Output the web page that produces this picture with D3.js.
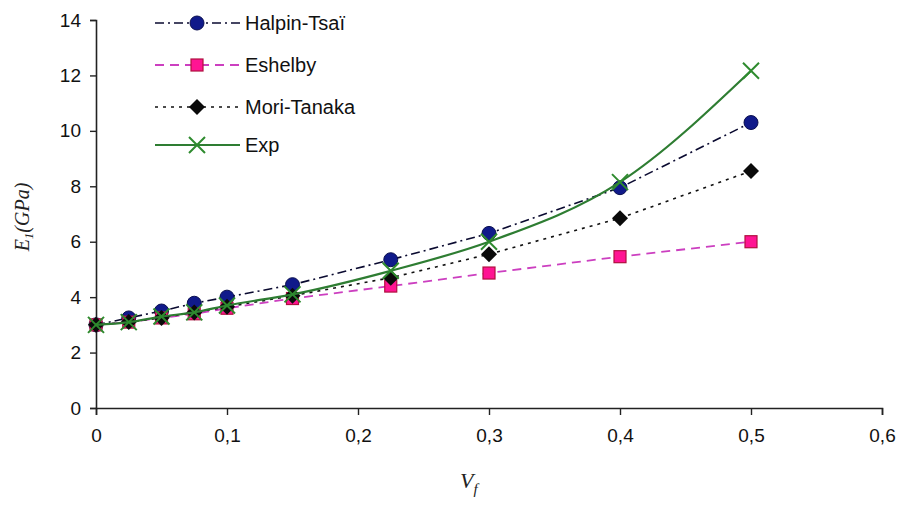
<!DOCTYPE html>
<html>
<head>
<meta charset="utf-8">
<script src="https://cdn.jsdelivr.net/npm/d3@7"></script>
<style>
  body { margin: 0; background: #fff; }
  .tick text { font-family: "Liberation Sans", Arial, sans-serif; font-size: 19px; fill: #111; }
</style>
</head>
<body>
<div id="chart"></div>
<script>
// fibre volume fraction
var vf = [0, 0.025, 0.05, 0.075, 0.1, 0.15, 0.225, 0.3, 0.4, 0.5];
var halpin = [3.0, 3.25, 3.5, 3.78, 4.0, 4.45, 5.35, 6.3, 7.95, 10.3];
var eshelby = [3.0, 3.1, 3.25, 3.4, 3.6, 3.95, 4.4, 4.87, 5.46, 6.0];
var moriTanaka = [3.0, 3.1, 3.25, 3.45, 3.65, 4.05, 4.7, 5.55, 6.85, 8.55];
var expVals = [3.0, 3.1, 3.3, 3.45, 3.7, 4.1, 4.95, 6.0, 8.15, 12.17];
var xTicks = [0, 0.1, 0.2, 0.3, 0.4, 0.5, 0.6];
var yTicks = [0, 2, 4, 6, 8, 10, 12, 14];

var margin = {top: 20, right: 18, bottom: 97, left: 96},
    width = 900 - margin.left - margin.right,
    height = 505 - margin.top - margin.bottom;

var svg = d3.select("#chart").append("svg")
  .attr("width", 900).attr("height", 505);

var g = svg.append("g").attr("transform", "translate(" + margin.left + "," + margin.top + ")");

var x = d3.scaleLinear().domain([0, 0.6]).range([0, width]);
var y = d3.scaleLinear().domain([0, 14]).range([height, 0]);

// axes
var xAxis = d3.axisBottom(x).tickValues(xTicks).tickSize(7).tickPadding(14)
  .tickFormat(function(d){ return d3.format(".1~f")(d).replace(".", ","); });
var yAxis = d3.axisLeft(y).tickValues(yTicks).tickSize(6).tickPadding(9);

var gx = g.append("g").attr("transform", "translate(0," + height + ")").call(xAxis);
var gy = g.append("g").call(yAxis);
[gx, gy].forEach(function(a){
  a.select(".domain").attr("stroke", "#222").attr("stroke-width", 1.6);
  a.selectAll(".tick line").attr("stroke", "#222").attr("stroke-width", 1.4);
});

// axis titles
var t = svg.append("text")
  .attr("transform", "translate(29,217) rotate(-90)")
  .attr("text-anchor", "middle")
  .attr("font-family", "'Liberation Serif', 'Times New Roman', serif")
  .attr("font-style", "italic").attr("font-size", 20).attr("fill", "#222");
t.append("tspan").text("E");
t.append("tspan").attr("font-size", 13).attr("dy", 4).text("1");
t.append("tspan").attr("dy", -4).text("(GPa)");

var vt = svg.append("text")
  .attr("x", 460).attr("y", 488)
  .attr("font-family", "'Liberation Serif', 'Times New Roman', serif")
  .attr("font-style", "italic").attr("font-size", 22).attr("fill", "#222");
vt.append("tspan").text("V");
vt.append("tspan").attr("font-size", 15).attr("dy", 6).text("f");

var series = [
  {name: "Halpin-Tsaï", values: halpin, stroke: "#0a0a30", dash: "9,4,2,4", width: 1.6, marker: "circle", fill: "#101a8a", edge: "#0a0f50", curve: d3.curveLinear},
  {name: "Eshelby", values: eshelby, stroke: "#cc3fc0", dash: "9,6", width: 1.8, marker: "square", fill: "#ff1493", edge: "#b0103f", curve: d3.curveLinear},
  {name: "Mori-Tanaka", values: moriTanaka, stroke: "#111", dash: "3,5", width: 1.6, marker: "diamond", fill: "#0a0a0a", edge: "#000", curve: d3.curveLinear},
  {name: "Exp", values: expVals, stroke: "#2e7d32", dash: null, width: 2.2, marker: "cross", fill: "none", edge: "#2e8b2e", curve: d3.curveMonotoneX}
];

function drawMarker(sel, s) {
  if (s.marker === "circle") {
    sel.append("circle").attr("r", 7).attr("fill", s.fill).attr("stroke", s.edge).attr("stroke-width", 1);
  } else if (s.marker === "square") {
    sel.append("rect").attr("x", -6).attr("y", -6).attr("width", 12).attr("height", 12)
      .attr("fill", s.fill).attr("stroke", s.edge).attr("stroke-width", 1.2);
  } else if (s.marker === "diamond") {
    sel.append("path").attr("d", "M0,-8L8,0L0,8L-8,0Z").attr("fill", s.fill);
  } else {
    sel.append("path").attr("d", "M-8,-8L8,8M-8,8L8,-8").attr("stroke", s.edge).attr("stroke-width", 2).attr("fill", "none");
  }
}

series.forEach(function(s) {
  var pts = vf.map(function(v, i){ return [v, s.values[i]]; });
  var line = d3.line().x(function(d){ return x(d[0]); }).y(function(d){ return y(d[1]); }).curve(s.curve);
  g.append("path").attr("d", line(pts)).attr("fill", "none")
    .attr("stroke", s.stroke).attr("stroke-width", s.width)
    .attr("stroke-dasharray", s.dash);
  pts.forEach(function(p){
    var m = g.append("g").attr("transform", "translate(" + x(p[0]) + "," + y(p[1]) + ")");
    drawMarker(m, s);
  });
});

// legend
var legendY = [23, 65, 107, 145];
series.forEach(function(s, i) {
  var lg = svg.append("g").attr("transform", "translate(155," + legendY[i] + ")");
  lg.append("line").attr("x1", 0).attr("x2", 85).attr("stroke", s.stroke)
    .attr("stroke-width", s.width).attr("stroke-dasharray", s.dash);
  var m = lg.append("g").attr("transform", "translate(42,0)");
  drawMarker(m, s);
  lg.append("text").attr("x", 90).attr("y", 7).text(s.name)
    .attr("font-family", "'Liberation Sans', Arial, sans-serif")
    .attr("font-size", 20).attr("fill", "#111");
});
</script>
</body>
</html>
